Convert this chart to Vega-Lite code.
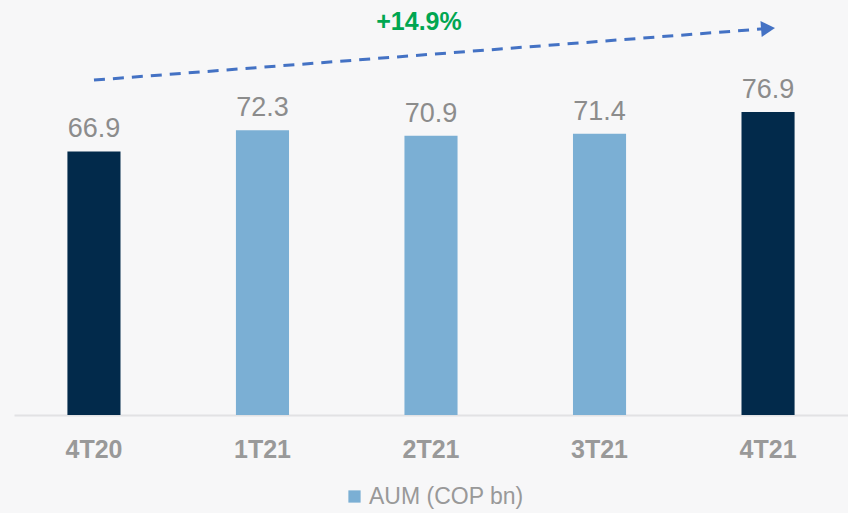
{
  "$schema": "https://vega.github.io/schema/vega-lite/v6.json",
  "width": 834,
  "height": 394,
  "autosize": {"type": "none"},
  "padding": {"left": 14, "top": 21, "right": 0, "bottom": 98},
  "background": "#f7f7f8",
  "config": {
    "view": {"stroke": null},
    "font": "Liberation Sans"
  },
  "datasets": {
    "bars": [
      {"quarter": "4T20", "value": 66.9, "series": "AUM (COP bn)"},
      {"quarter": "1T21", "value": 72.3, "series": "AUM (COP bn)"},
      {"quarter": "2T21", "value": 70.9, "series": "AUM (COP bn)"},
      {"quarter": "3T21", "value": 71.4, "series": "AUM (COP bn)"},
      {"quarter": "4T21", "value": 76.9, "series": "AUM (COP bn)"}
    ],
    "arrow": [
      {"start": "4T20", "end": "4T21", "y0": 85.0, "y1": 98.1}
    ],
    "growth": [
      {"quarter": "2T21", "value": 97.7, "label": "+14.9%"}
    ]
  },
  "resolve": {"scale": {"x": "shared"}},
  "layer": [
    {
      "data": {"name": "bars"},
      "mark": {"type": "bar"},
      "encoding": {
        "x": {
          "field": "quarter",
          "type": "nominal",
          "scale": {"domain": ["4T20", "1T21", "2T21", "3T21", "4T21"], "paddingInner": 0.685, "paddingOuter": 0.317},
          "axis": {
            "title": null,
            "labelAngle": 0,
            "labelFont": "Liberation Sans",
            "labelFontSize": 25,
            "labelFontWeight": "bold",
            "labelColor": "#999999",
            "labelPadding": 22,
            "ticks": false,
            "domainColor": "#e2e2e4",
            "domainWidth": 2,
            "grid": false
          }
        },
        "y": {"field": "value", "type": "quantitative", "scale": {"domain": [0, 100]}, "axis": null},
        "color": {
          "condition": {"test": "datum.quarter === '4T20' || datum.quarter === '4T21'", "value": "#022a4b"},
          "field": "series",
          "type": "nominal",
          "scale": {"range": ["#7bafd4"]},
          "legend": {
            "title": null,
            "orient": "none",
            "legendX": 329,
            "legendY": 464,
            "symbolType": "square",
            "symbolSize": 150,
            "symbolStrokeWidth": 0,
            "labelFont": "Liberation Sans",
            "labelFontSize": 23,
            "labelColor": "#999999",
            "labelOffset": 3
          }
        }
      }
    },
    {
      "data": {"name": "bars"},
      "mark": {"type": "text", "baseline": "alphabetic", "dy": -14, "fontSize": 27, "color": "#8c8c8c", "font": "Liberation Sans"},
      "encoding": {
        "x": {"field": "quarter", "type": "nominal"},
        "y": {"field": "value", "type": "quantitative"},
        "text": {"field": "value", "type": "quantitative", "format": ".1f"}
      }
    },
    {
      "data": {"name": "arrow"},
      "mark": {"type": "rule", "color": "#4472c4", "strokeWidth": 3, "strokeDash": [11, 8]},
      "encoding": {
        "x": {"field": "start", "type": "nominal"},
        "x2": {"field": "end"},
        "y": {"field": "y0", "type": "quantitative"},
        "y2": {"field": "y1"}
      }
    },
    {
      "data": {"name": "arrow"},
      "mark": {"type": "point", "shape": "triangle-right", "filled": true, "color": "#4472c4", "size": 260, "angle": -4.4, "opacity": 1},
      "encoding": {
        "x": {"field": "end", "type": "nominal"},
        "y": {"field": "y1", "type": "quantitative"}
      }
    },
    {
      "data": {"name": "growth"},
      "mark": {"type": "text", "baseline": "alphabetic", "dx": -12, "fontSize": 25, "fontWeight": "bold", "color": "#00a651", "font": "Liberation Sans"},
      "encoding": {
        "x": {"field": "quarter", "type": "nominal"},
        "y": {"field": "value", "type": "quantitative"},
        "text": {"field": "label"}
      }
    }
  ]
}
